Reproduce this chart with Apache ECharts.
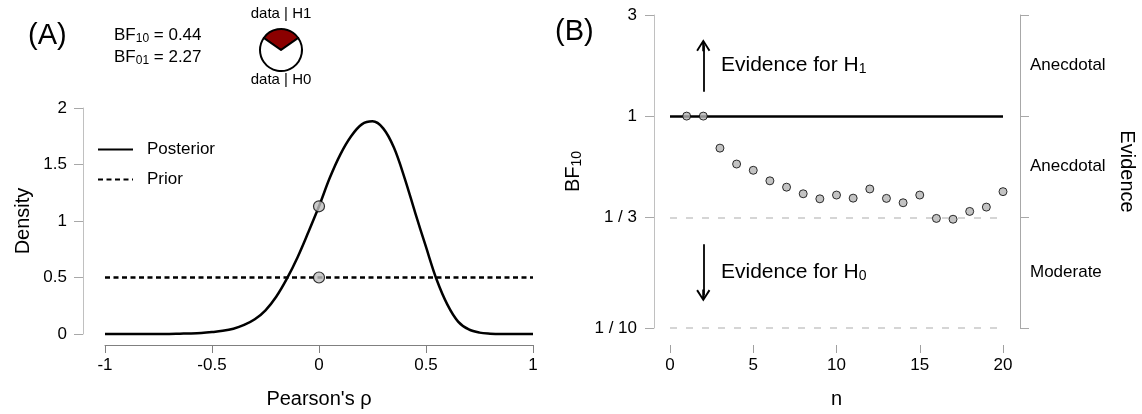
<!DOCTYPE html>
<html>
<head>
<meta charset="utf-8">
<script src="https://cdn.jsdelivr.net/npm/echarts@6/dist/echarts.min.js"></script>
<style>
  html, body { margin: 0; padding: 0; background: #ffffff; }
  #chart { width: 1142px; height: 414px; }
</style>
</head>
<body>
<div id="chart"></div>
<script>
// ---- Panel A: prior vs. posterior density of Pearson's rho ----
const rhoGrid = [-1, -0.9, -0.8, -0.7, -0.65, -0.6, -0.55, -0.5, -0.45, -0.4, -0.35, -0.3, -0.25, -0.2, -0.15, -0.1, -0.05, 0,
                 0.05, 0.1, 0.15, 0.2, 0.25, 0.3, 0.35, 0.4, 0.45, 0.5, 0.55, 0.6, 0.65, 0.7, 0.75, 0.8, 0.85, 0.9, 1];
const posteriorDensity = [0, 0, 0, 0.001, 0.003, 0.005, 0.009, 0.017, 0.028, 0.047, 0.08, 0.13, 0.21, 0.33, 0.49, 0.68, 0.9, 1.13,
                          1.38, 1.59, 1.75, 1.855, 1.882, 1.82, 1.65, 1.38, 1.07, 0.77, 0.48, 0.26, 0.11, 0.04, 0.012, 0.003, 0, 0, 0];
const priorRho = [-1, 1];
const priorDensity = [0.5, 0.5];
const nullRho = [0, 0];
const nullDensity = [1.13, 0.5];
const bf10 = 0.44;

// ---- Panel B: sequential Bayes factor ----
const nObs = [1, 2, 3, 4, 5, 6, 7, 8, 9, 10, 11, 12, 13, 14, 15, 16, 17, 18, 19, 20];
const bf10Sequence = [1, 1, 0.706, 0.594, 0.555, 0.495, 0.462, 0.43, 0.407, 0.424,
                      0.41, 0.453, 0.409, 0.39, 0.424, 0.329, 0.326, 0.355, 0.372, 0.44];
const bfTicks = [0.1, 1 / 3, 1, 3];
const bfTickLabels = ['1 / 10', '1 / 3', '1', '3'];
const evidenceLabels = ['Moderate', 'Anecdotal', 'Anecdotal'];

const FONT = '"Liberation Sans", Arial, Helvetica, sans-serif';
const log10 = Math.log10;
const bfTicksLog = bfTicks.map(log10);
const evidenceMid = [];
for (let i = 0; i < bfTicksLog.length - 1; i++) {
  evidenceMid.push((bfTicksLog[i] + bfTicksLog[i + 1]) / 2);
}
const nearestIndex = (arr, v) => {
  let best = 0;
  arr.forEach((a, i) => { if (Math.abs(a - v) < Math.abs(arr[best] - v)) best = i; });
  return best;
};
const zip = (xs, ys) => xs.map((x, i) => [x, ys[i]]);

// up-pointing open arrow head with a short stem
const arrowHead = 'path://M0,10 L6,0 L12,10 L10.6,11 L6.9,4.6 L6.9,11 L5.1,11 L5.1,4.6 L1.4,11 Z';

const subRich = {
  b: { fontSize: 17, lineHeight: 19, fill: '#000', color: '#000', fontFamily: FONT },
  s: { fontSize: 12, lineHeight: 11, verticalAlign: 'bottom', fill: '#000', color: '#000', fontFamily: FONT }
};
const annRich = {
  b: { fontSize: 21, lineHeight: 23, fill: '#000', color: '#000', fontFamily: FONT },
  s: { fontSize: 14, lineHeight: 12, verticalAlign: 'bottom', fill: '#000', color: '#000', fontFamily: FONT }
};

const chart = echarts.init(document.getElementById('chart'), null, { renderer: 'canvas' });

const option = {
  animation: false,
  backgroundColor: '#ffffff',
  textStyle: { fontFamily: FONT, color: '#000' },
  grid: [
    { left: 105, right: 609, top: 108, bottom: 80 },
    { left: 670, right: 139, top: 15, bottom: 86 }
  ],
  legend: {
    data: ['Posterior', 'Prior'],
    orient: 'vertical',
    left: 97,
    top: 141,
    padding: 0,
    itemWidth: 35,
    itemHeight: 14,
    itemGap: 13,
    selectedMode: false,
    itemStyle: { opacity: 0, borderWidth: 0 },
    textStyle: { fontSize: 17, color: '#000', fontFamily: FONT, padding: [0, 0, 0, 9] }
  },
  xAxis: [
    {
      gridIndex: 0, type: 'value', min: -1, max: 1, interval: 0.5, offset: 11,
      axisLine: { onZero: false, lineStyle: { color: '#808080', width: 1 } },
      axisTick: { length: 8, lineStyle: { color: '#808080' } },
      axisLabel: { fontSize: 17, color: '#000', margin: 12 },
      splitLine: { show: false },
      name: "Pearson's ρ", nameLocation: 'middle', nameGap: 44,
      nameTextStyle: { fontSize: 20, color: '#000' }
    },
    {
      gridIndex: 1, type: 'value', min: 0, max: 20, interval: 5, offset: 17,
      axisLine: { show: false, onZero: false },
      axisTick: { show: true, length: 8, lineStyle: { color: '#a0a0a0' } },
      axisLabel: { fontSize: 17, color: '#000', margin: 12 },
      splitLine: { show: false },
      name: 'n', nameLocation: 'middle', nameGap: 44,
      nameTextStyle: { fontSize: 20, color: '#000' }
    }
  ],
  yAxis: [
    {
      gridIndex: 0, type: 'value', min: 0, max: 2, interval: 0.5, offset: 22,
      axisLine: { show: true, onZero: false, lineStyle: { color: '#c0c0c0', width: 1 } },
      axisTick: { show: true, length: 9, lineStyle: { color: '#a8a8a8' } },
      axisLabel: { fontSize: 17, color: '#000', margin: 16 },
      splitLine: { show: false },
      name: 'Density', nameLocation: 'middle', nameGap: 50, nameRotate: 90,
      nameTextStyle: { fontSize: 20, color: '#000' }
    },
    {
      gridIndex: 1, type: 'value', min: -1, max: log10(3), offset: 16,
      axisLine: { show: true, onZero: false, lineStyle: { color: '#c0c0c0', width: 1 } },
      axisTick: { show: true, length: 9, customValues: bfTicksLog, lineStyle: { color: '#a8a8a8' } },
      axisLabel: {
        fontSize: 17, color: '#000', margin: 17, customValues: bfTicksLog,
        formatter: v => bfTickLabels[nearestIndex(bfTicksLog, v)]
      },
      splitLine: { show: false },
      name: '{b|BF}{s|10}', nameLocation: 'middle', nameGap: 70, nameRotate: 90,
      nameTextStyle: {
        rich: {
          b: { fontSize: 20, lineHeight: 22, color: '#000', fontFamily: FONT },
          s: { fontSize: 14, lineHeight: 12, verticalAlign: 'bottom', color: '#000', fontFamily: FONT }
        }
      }
    },
    {
      gridIndex: 1, type: 'value', position: 'right', min: -1, max: log10(3), offset: 17,
      axisLine: { show: true, onZero: false, lineStyle: { color: '#a8a8a8', width: 1 } },
      axisTick: { show: true, length: 9, customValues: bfTicksLog, lineStyle: { color: '#a8a8a8' } },
      axisLabel: {
        fontSize: 17, color: '#000', margin: 10, customValues: evidenceMid,
        formatter: v => evidenceLabels[nearestIndex(evidenceMid, v)]
      },
      splitLine: { show: false },
      name: 'Evidence', nameLocation: 'middle', nameGap: 97, nameRotate: -90,
      nameTextStyle: { fontSize: 20, color: '#000' }
    }
  ],
  series: [
    {
      name: 'Posterior', type: 'line', xAxisIndex: 0, yAxisIndex: 0,
      data: zip(rhoGrid, posteriorDensity),
      symbol: 'none', smooth: 0.35, clip: false,
      lineStyle: { color: '#000', width: 2.5 },
      itemStyle: { color: '#000' },
      z: 3
    },
    {
      name: 'Prior', type: 'line', xAxisIndex: 0, yAxisIndex: 0,
      data: zip(priorRho, priorDensity),
      symbol: 'none',
      lineStyle: { color: '#000', width: 2.5, type: [5, 3.5] },
      itemStyle: { color: '#000' },
      z: 3
    },
    {
      type: 'scatter', xAxisIndex: 0, yAxisIndex: 0,
      data: zip(nullRho, nullDensity),
      symbol: 'circle', symbolSize: 11, silent: true,
      itemStyle: { color: '#bebebe', borderColor: '#000', borderWidth: 1.2 },
      z: 5
    },
    {
      // reference lines and evidence arrows for panel B
      type: 'line', xAxisIndex: 1, yAxisIndex: 1, data: [], silent: true,
      markLine: {
        silent: true, symbol: 'none', animation: false,
        label: { show: false },
        lineStyle: { color: '#c8c8c8', width: 1.5, type: [7, 9] },
        data: [
          { yAxis: log10(3) },
          { yAxis: log10(1 / 3) },
          { yAxis: log10(0.1) },
          { yAxis: log10(1), lineStyle: { color: '#000', width: 2.5, type: 'solid' } },
          [
            { coord: [2, 0.115], symbol: 'none', lineStyle: { color: '#000', width: 1.8, type: 'solid' } },
            { coord: [2, 0.334], symbol: arrowHead, symbolSize: [14, 12] }
          ],
          [
            { coord: [2, -0.605], symbol: 'none', lineStyle: { color: '#000', width: 1.8, type: 'solid' } },
            { coord: [2, -0.847], symbol: arrowHead, symbolSize: [14, 12] }
          ]
        ]
      },
      z: 2
    },
    {
      type: 'scatter', xAxisIndex: 1, yAxisIndex: 1,
      data: zip(nObs, bf10Sequence.map(log10)),
      symbol: 'circle', symbolSize: 8, silent: true,
      itemStyle: { color: '#b4b4b4', borderColor: '#000', borderWidth: 1 },
      z: 6
    },
    {
      // posterior probability wheel: data | H1 vs data | H0
      type: 'pie', center: [281, 50], radius: 21, startAngle: 145, clockwise: true,
      silent: true, label: { show: false }, labelLine: { show: false },
      itemStyle: { borderColor: '#000', borderWidth: 2 },
      data: [
        { value: bf10, name: 'data | H1', itemStyle: { color: '#8b0000' } },
        { value: 1, name: 'data | H0', itemStyle: { color: '#ffffff' } }
      ]
    }
  ],
  graphic: [
    { type: 'text', x: 28, y: 36, style: { text: '(A)', font: '29px ' + FONT, fill: '#000', verticalAlign: 'middle' } },
    { type: 'text', x: 555, y: 32, style: { text: '(B)', font: '29px ' + FONT, fill: '#000', verticalAlign: 'middle' } },
    { type: 'text', x: 114, y: 35, style: { text: '{b|BF}{s|10}{b| = ' + bf10.toFixed(2) + '}', rich: subRich, verticalAlign: 'middle' } },
    { type: 'text', x: 114, y: 57, style: { text: '{b|BF}{s|01}{b| = ' + (1 / bf10).toFixed(2) + '}', rich: subRich, verticalAlign: 'middle' } },
    { type: 'text', x: 281, y: 14, style: { text: 'data | H1', font: '15px ' + FONT, fill: '#000', align: 'center', verticalAlign: 'middle' } },
    { type: 'text', x: 281, y: 80, style: { text: 'data | H0', font: '15px ' + FONT, fill: '#000', align: 'center', verticalAlign: 'middle' } },
    { type: 'text', x: 721, y: 65, style: { text: '{b|Evidence for H}{s|1}', rich: annRich, verticalAlign: 'middle' } },
    { type: 'text', x: 721, y: 272, style: { text: '{b|Evidence for H}{s|0}', rich: annRich, verticalAlign: 'middle' } }
  ]
};

chart.setOption(option);
</script>
</body>
</html>
